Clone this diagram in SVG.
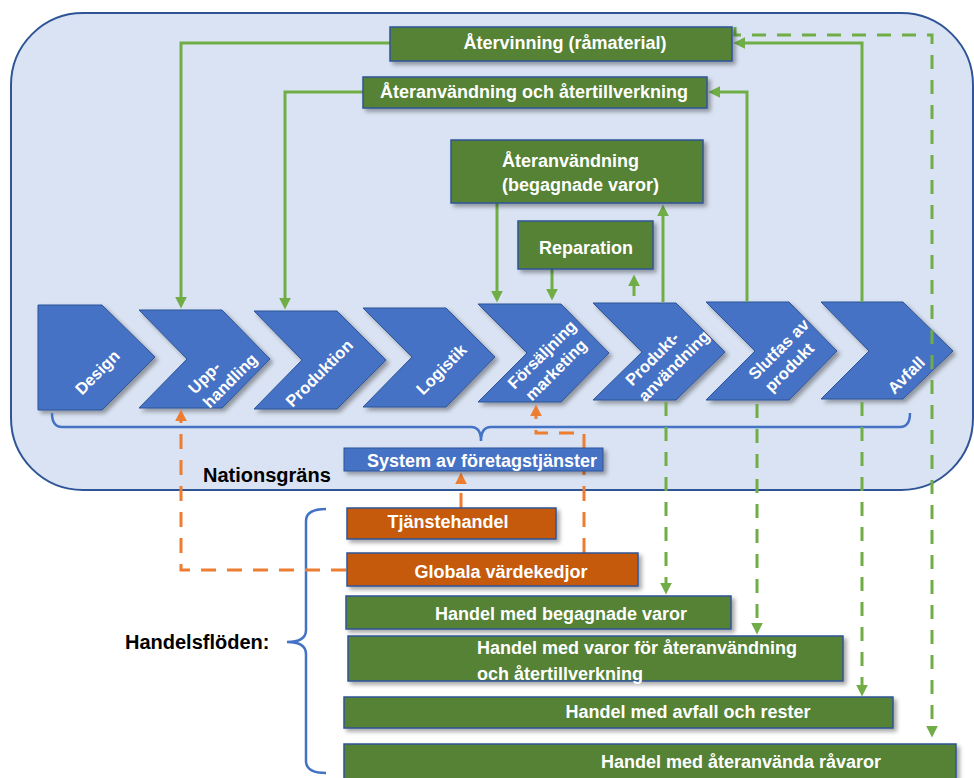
<svg xmlns="http://www.w3.org/2000/svg" width="974" height="778" viewBox="0 0 974 778">
<style>
.bg{fill:#dae3f3;stroke:#2f5597;stroke-width:2}
.chev{fill:#4472c4;stroke:#2f5597;stroke-width:1;filter:url(#sh)}
.gbox{fill:#548235;stroke:#2f5597;stroke-width:1.5;filter:url(#sh)}
.obox{fill:#c55a11;stroke:#2f5597;stroke-width:1.5;filter:url(#sh)}
.bbox{fill:#4472c4;stroke:#2f5597;stroke-width:1;filter:url(#sh)}
.t{font-family:"Liberation Sans",Arial,sans-serif;font-weight:bold;fill:#fff;font-size:18px}
.ct{font-family:"Liberation Sans",Arial,sans-serif;font-weight:bold;fill:#fff;font-size:16.5px;text-anchor:middle}
.k{font-family:"Liberation Sans",Arial,sans-serif;font-weight:bold;fill:#000;font-size:20px}
.g{fill:none;stroke:#70ad47;stroke-width:3}
.gd{fill:none;stroke:#70ad47;stroke-width:3;stroke-dasharray:14 11}
.od{fill:none;stroke:#ed7d31;stroke-width:3;stroke-dasharray:15 11}
.brace{fill:none;stroke:#4472c4;stroke-width:2.5}
</style>
<defs>
<filter id="sh" x="-10%" y="-10%" width="130%" height="150%">
<feDropShadow dx="3" dy="3" stdDeviation="2" flood-color="#000" flood-opacity="0.35"/>
</filter>
<marker id="ag" markerUnits="userSpaceOnUse" markerWidth="12" markerHeight="12" viewBox="0 0 10 10" refX="7" refY="5" orient="auto">
<path d="M0,0 L10,5 L0,10 z" fill="#70ad47"/>
</marker>
<marker id="ao" markerUnits="userSpaceOnUse" markerWidth="12" markerHeight="12" viewBox="0 0 10 10" refX="7" refY="5" orient="auto">
<path d="M0,0 L10,5 L0,10 z" fill="#ed7d31"/>
</marker>
</defs>

<rect id="nation" class="bg" x="11" y="13" width="962" height="477" rx="72" ry="72"/>

<g id="chain">
<g id="design"><polygon class="chev" points="38,305 102,305 155,357 102,410 38,410"/>
<text class="ct" x="97.5" y="378" transform="rotate(-45 97.5 372.5)">Design</text></g>
<g id="upphandling"><polygon class="chev" points="139,310 222,310 270,359 222,408 139,408 187,359"/>
<text class="ct" x="204" y="383.5" transform="rotate(-45 204 377.5)">Upp-</text>
<text class="ct" x="232" y="385.5" transform="rotate(-45 232 382.5)">handling</text></g>
<g id="produktion"><polygon class="chev" points="254,311 337,311 386,360 337,409 254,409 302,360"/>
<text class="ct" x="319" y="379" transform="rotate(-45 319 373)">Produktion</text></g>
<g id="logistik"><polygon class="chev" points="363,308 446,308 495,357 446,407 363,407 412,357"/>
<text class="ct" x="443" y="374.5" transform="rotate(-45 443 371)">Logistik</text></g>
<g id="forsaljning"><polygon class="chev" points="478,304 561,304 609,353 561,402 478,402 527,353"/>
<text class="ct" x="543.5" y="359.5" transform="rotate(-45 543.5 356)">Försäljning</text>
<text class="ct" x="557.5" y="375" transform="rotate(-45 557.5 371.5)">marketing</text></g>
<g id="produktanvandning"><polygon class="chev" points="593,303 676,303 725,352 676,400 593,400 642,352"/>
<text class="ct" x="652" y="364.5" transform="rotate(-45 652 358.5)">Produkt-</text>
<text class="ct" x="675.5" y="371" transform="rotate(-45 675.5 367.5)">användning</text></g>
<g id="slutfas"><polygon class="chev" points="706,302 789,302 837,351 789,400 706,400 755,351"/>
<text class="ct" x="778.5" y="355" transform="rotate(-45 778.5 349)">Slutfas av</text>
<text class="ct" x="790.5" y="372.5" transform="rotate(-45 790.5 368.5)">produkt</text></g>
<g id="avfall"><polygon class="chev" points="821,302 903,302 953,351 903,399 821,399 869,351"/>
<text class="ct" x="906" y="381" transform="rotate(-45 906 375)">Avfall</text></g>
</g>

<g id="braces">
<path class="brace" d="M52,413 Q52,427 62,427 H471 Q481,427 481,441 Q481,427 491,427 H900 Q910,427 910,413"/>
<path class="brace" d="M326,509 Q306,509 306,521 V630 Q306,642 287,642 Q306,642 306,654 V761 Q306,773 326,773"/>
</g>

<g id="connectors">
<path class="g" d="M390,43 H181 V305" marker-end="url(#ag)"/>
<path class="g" d="M363,92 H285 V306" marker-end="url(#ag)"/>
<path class="g" d="M497,203 V299" marker-end="url(#ag)"/>
<path class="g" d="M552,269 V297" marker-end="url(#ag)"/>
<path class="g" d="M634,296 V278" marker-end="url(#ag)"/>
<path class="g" d="M663,302 V208" marker-end="url(#ag)"/>
<path class="g" d="M747,302 V92 H712" marker-end="url(#ag)"/>
<path class="g" d="M862,302 V43 H737" marker-end="url(#ag)"/>
<path class="gd" d="M735,27 V35 H932 V734" marker-end="url(#ag)"/>
<path class="gd" d="M666,402 V591" marker-end="url(#ag)"/>
<path class="gd" d="M757,404 V631" marker-end="url(#ag)"/>
<path class="gd" d="M862,402 V693" marker-end="url(#ag)"/>
<path class="od" d="M346,570 H181 V413" marker-end="url(#ao)"/>
<path class="od" d="M461,508 V476" marker-end="url(#ao)"/>
<path class="od" d="M584,553 V433 H536 V408" marker-end="url(#ao)"/>
</g>

<g id="atervinning"><rect class="gbox" x="390" y="27" width="342" height="34"/>
<text class="t" x="565" y="49" text-anchor="middle">Återvinning (råmaterial)</text></g>
<g id="ateranvandning-atertillverkning"><rect class="gbox" x="363" y="77" width="344" height="31"/>
<text class="t" x="534" y="98" text-anchor="middle">Återanvändning och återtillverkning</text></g>
<g id="ateranvandning-begagnade"><rect class="gbox" x="451" y="140" width="252" height="63"/>
<text class="t" x="502" y="167">Återanvändning</text>
<text class="t" x="502" y="191">(begagnade varor)</text></g>
<g id="reparation"><rect class="gbox" x="518" y="221" width="135" height="48"/>
<text class="t" x="586" y="254" text-anchor="middle">Reparation</text></g>

<g id="system"><rect class="bbox" x="344" y="448" width="259" height="23"/>
<text class="t" x="482" y="467" text-anchor="middle">System av företagstjänster</text></g>
<g id="nationsgrans"><text class="k" x="203" y="482">Nationsgräns</text></g>

<g id="handelsfloden"><text class="k" x="125" y="649">Handelsflöden:</text></g>
<g id="tjanstehandel"><rect class="obox" x="347" y="508" width="209" height="31"/>
<text class="t" x="448" y="528" text-anchor="middle">Tjänstehandel</text></g>
<g id="globala"><rect class="obox" x="347" y="553" width="291" height="33"/>
<text class="t" x="501" y="578" text-anchor="middle">Globala värdekedjor</text></g>
<g id="handel-begagnade"><rect class="gbox" x="346" y="596" width="385" height="33"/>
<text class="t" x="561" y="620" text-anchor="middle">Handel med begagnade varor</text></g>
<g id="handel-varor"><rect class="gbox" x="348" y="636" width="495" height="45"/>
<text class="t" x="477" y="654">Handel med varor för återanvändning</text>
<text class="t" x="477" y="680">och återtillverkning</text></g>
<g id="handel-avfall"><rect class="gbox" x="344" y="697" width="549" height="31"/>
<text class="t" x="688" y="718" text-anchor="middle">Handel med avfall och rester</text></g>
<g id="handel-ravaror"><rect class="gbox" x="344" y="744" width="612" height="40"/>
<text class="t" x="741" y="768" text-anchor="middle">Handel med återanvända råvaror</text></g>
</svg>
